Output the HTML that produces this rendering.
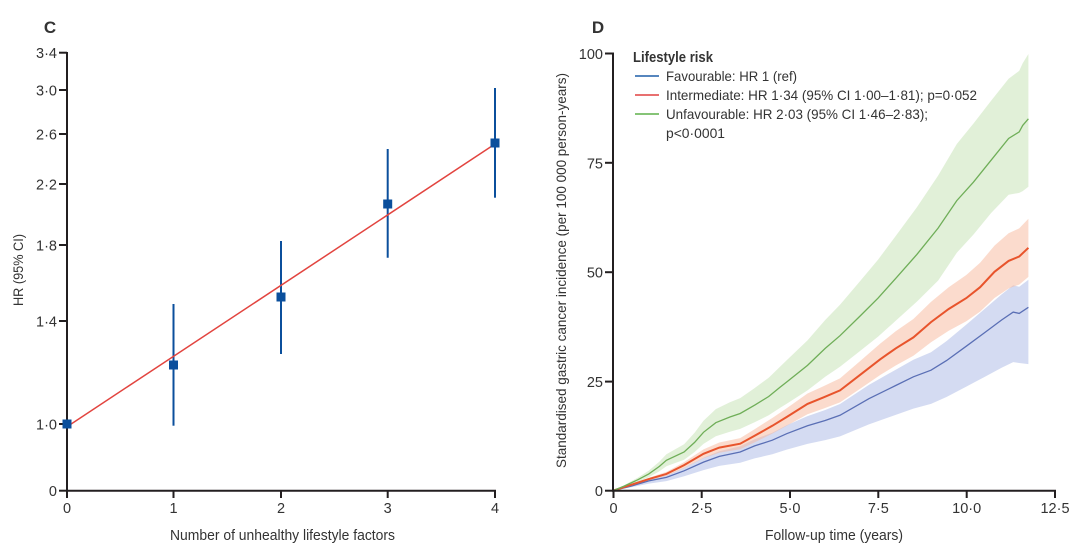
<!DOCTYPE html>
<html>
<head>
<meta charset="utf-8">
<style>
html,body{margin:0;padding:0;background:#fff;}
svg{display:block;}
text{font-family:"Liberation Sans",Arial,sans-serif;fill:#333;}
</style>
</head>
<body>
<svg width="1080" height="551" viewBox="0 0 1080 551" xmlns="http://www.w3.org/2000/svg">
  <!-- ================= Panel C ================= -->
  <text x="50" y="33" font-size="17" font-weight="bold" text-anchor="middle" fill="#222">C</text>

  <!-- axes -->
  <line x1="67" y1="52" x2="67" y2="491.5" stroke="#231f20" stroke-width="2"/>
  <line x1="66" y1="490.7" x2="496" y2="490.7" stroke="#231f20" stroke-width="2"/>

  <!-- y ticks -->
  <g stroke="#231f20" stroke-width="2">
    <line x1="59" y1="52.7" x2="67" y2="52.7"/>
    <line x1="59" y1="90" x2="67" y2="90"/>
    <line x1="59" y1="134" x2="67" y2="134"/>
    <line x1="59" y1="184" x2="67" y2="184"/>
    <line x1="59" y1="245" x2="67" y2="245"/>
    <line x1="59" y1="321" x2="67" y2="321"/>
    <line x1="59" y1="424" x2="67" y2="424"/>
    <line x1="59" y1="490.7" x2="67" y2="490.7"/>
  </g>
  <g font-size="14.5" text-anchor="end">
    <text x="57" y="58">3·4</text>
    <text x="57" y="95.5">3·0</text>
    <text x="57" y="139.5">2·6</text>
    <text x="57" y="189.5">2·2</text>
    <text x="57" y="250.5">1·8</text>
    <text x="57" y="326.5">1·4</text>
    <text x="57" y="429.5">1·0</text>
    <text x="57" y="496">0</text>
  </g>

  <!-- x ticks -->
  <g stroke="#231f20" stroke-width="2">
    <line x1="67" y1="490.7" x2="67" y2="498"/>
    <line x1="173.5" y1="490.7" x2="173.5" y2="498"/>
    <line x1="281" y1="490.7" x2="281" y2="498"/>
    <line x1="387.7" y1="490.7" x2="387.7" y2="498"/>
    <line x1="495" y1="490.7" x2="495" y2="498"/>
  </g>
  <g font-size="14.5" text-anchor="middle">
    <text x="67" y="513">0</text>
    <text x="173.5" y="513">1</text>
    <text x="281" y="513">2</text>
    <text x="387.7" y="513">3</text>
    <text x="495" y="513">4</text>
  </g>
  <text x="282.5" y="540" font-size="15" text-anchor="middle" textLength="225" lengthAdjust="spacingAndGlyphs">Number of unhealthy lifestyle factors</text>
  <text transform="translate(23,270) rotate(-90)" font-size="14" text-anchor="middle" textLength="72" lengthAdjust="spacingAndGlyphs">HR (95% CI)</text>

  <!-- CI bars -->
  <g stroke="#0b4f9c" stroke-width="2">
    <line x1="173.5" y1="304" x2="173.5" y2="425.7"/>
    <line x1="281" y1="241" x2="281" y2="354"/>
    <line x1="387.7" y1="149" x2="387.7" y2="257.7"/>
    <line x1="495" y1="88" x2="495" y2="197.7"/>
  </g>
  <!-- trend line -->
  <line x1="67" y1="426.7" x2="495" y2="144" stroke="#e2443f" stroke-width="1.5"/>
  <!-- squares -->
  <g fill="#0b4f9c">
    <rect x="62.5" y="419.5" width="9" height="9"/>
    <rect x="169" y="360.5" width="9" height="9"/>
    <rect x="276.5" y="292.5" width="9" height="9"/>
    <rect x="383.2" y="199.5" width="9" height="9"/>
    <rect x="490.5" y="138.5" width="9" height="9"/>
  </g>

  <!-- ================= Panel D ================= -->
  <text x="598" y="33" font-size="17" font-weight="bold" text-anchor="middle" fill="#222">D</text>

  <!-- bands -->
  <polygon fill="#c8e3b8" fill-opacity="0.55" points="
613.5,490.5 624.1,485.2 638.2,477.4 648.8,470.6 659.4,461.6 666.4,454.3 684.1,444.3 694.6,432.8 703.5,420.7 715.8,409.1 729.9,402.3 740.2,398.1 754.6,388.1 768.7,377.7 780.0,366.7 786.7,360.3 807.5,340.4 825.2,320.0 840.0,304.7 860.5,280.6 878.1,259.6 895.7,236.0 916.9,207.2 938.1,175.6 956.8,144 973.4,123.6 991.0,100.9 1008.6,78.7 1019.2,70.9 1022.7,63.3 1028.4,54
1028.4,186.7 1022.7,191.1 1019.2,192.9 1008.6,194.8 991.0,213.1 973.4,234.6 956.8,252.8 938.1,280.6 916.9,301.6 895.7,320.8 878.1,336.6 860.5,350.6 840.0,366.7 825.2,376.8 807.5,390.4 786.7,403.7 780.0,407.9 768.7,415.3 754.6,422.3 740.2,428.9 729.9,431.7 715.8,436.3 703.5,443.9 694.6,452.0 684.1,459.7 666.4,466.3 659.4,471.2 648.8,477.2 638.2,481.8 624.1,487.0"/>

  <polygon fill="#c5cfee" fill-opacity="0.75" points="
613.5,490.5 631.1,485.4 648.8,479.5 666.4,475.4 684.1,467.8 703.5,457.8 719.3,451.3 740.2,446.2 754.6,439.2 772.3,432.7 786.7,425.2 807.5,416.1 825.2,410.0 840.0,404.0 868.9,384.9 895.7,369.7 913.4,359.7 931.0,352.2 946.5,341.1 966.3,324.6 984.0,309.5 1001.6,294.4 1013.2,285.3 1019.2,286.8 1028.4,279.8
1028.4,364.1 1019.2,363.0 1013.2,362.1 1001.6,367.7 984.0,377.2 966.3,386.6 946.5,397.0 931.0,403.9 913.4,408.6 895.7,414.9 868.9,424.4 840.0,436.4 825.2,440.1 807.5,443.9 786.7,449.6 772.3,454.3 754.6,458.4 740.2,462.8 719.3,465.9 703.5,470.1 684.1,476.3 666.4,481.1 648.8,483.6 631.1,487.3"/>

  <polygon fill="#f7b79c" fill-opacity="0.5" points="
613.5,490.5 631.1,484.1 648.8,477.7 666.4,471.9 684.1,462.1 703.5,449.4 719.3,442.5 740.2,438.1 754.6,429.2 772.3,418.0 786.7,408.2 807.5,393.5 823.4,386.2 840.0,378.4 860.5,360.7 880.2,343.6 895.7,331.3 913.4,319.0 931.0,301.9 948.7,287.2 966.3,275.0 980.1,262.8 994.5,245.6 1008.6,233.3 1019.2,228.4 1028.4,218.7
1028.4,276.9 1019.2,284.6 1008.6,288.5 994.5,298.0 980.1,311.6 966.3,321.2 948.7,330.8 931.0,342.3 913.4,355.8 895.7,365.5 880.2,375.0 860.5,388.5 840.0,402.4 823.4,408.6 807.5,414.3 786.7,425.8 772.3,433.6 754.6,442.4 740.2,449.3 719.3,452.7 703.5,458.2 684.1,468.1 666.4,475.9 648.8,480.5 631.1,485.5"/>

  <!-- lines -->
  <polyline fill="none" stroke="#5a6fb5" stroke-width="1.3" points="613.5,490.5 631.1,486.1 648.8,480.9 666.4,477.4 684.1,470.8 703.5,462.1 719.3,456.4 740.2,452.0 754.6,445.9 772.3,440.2 786.7,433.7 807.5,425.8 825.2,420.5 840.0,415.3 868.9,398.7 895.7,385.5 913.4,376.8 931.0,370.2 946.5,360.6 966.3,346.2 984.0,333.1 1001.6,320.0 1013.2,312.1 1019.2,313.4 1028.4,307.3"/>
  <polyline fill="none" stroke="#e8542c" stroke-width="2" points="613.5,490.5 631.1,484.8 648.8,479.1 666.4,473.9 684.1,465.1 703.5,453.8 719.3,447.6 740.2,443.7 754.6,435.8 772.3,425.8 786.7,417.0 807.5,403.9 823.4,397.4 840.0,390.4 860.5,374.6 880.2,359.3 895.7,348.4 913.4,337.4 931.0,322.1 948.7,309.0 966.3,298.1 980.1,287.2 994.5,271.8 1008.6,260.9 1019.2,256.5 1028.4,247.8"/>
  <polyline fill="none" stroke="#6fae58" stroke-width="1.3" points="613.5,490.5 624.1,486.1 638.2,479.6 648.8,473.9 659.4,466.4 666.4,460.3 684.1,452.0 694.6,442.4 703.5,432.3 715.8,422.7 729.9,417.0 740.2,413.5 754.6,405.2 768.7,396.5 780.0,387.3 786.7,382.0 807.5,365.4 825.2,348.4 840.0,335.7 860.5,315.6 878.1,298.1 895.7,278.4 916.9,254.4 938.1,228.1 956.8,200.6 973.4,182.2 991.0,160.3 1008.6,138.5 1019.2,131.9 1022.7,125.4 1028.4,118.8"/>

  <!-- axes -->
  <line x1="613" y1="52.5" x2="613" y2="491.5" stroke="#231f20" stroke-width="2"/>
  <line x1="612" y1="490.7" x2="1056" y2="490.7" stroke="#231f20" stroke-width="2"/>
  <g stroke="#231f20" stroke-width="2">
    <line x1="605" y1="53.5" x2="613" y2="53.5"/>
    <line x1="605" y1="162.8" x2="613" y2="162.8"/>
    <line x1="605" y1="272.2" x2="613" y2="272.2"/>
    <line x1="605" y1="381.6" x2="613" y2="381.6"/>
    <line x1="605" y1="490.7" x2="613" y2="490.7"/>
  </g>
  <g font-size="14.5" text-anchor="end">
    <text x="603" y="59">100</text>
    <text x="603" y="168.3">75</text>
    <text x="603" y="277.7">50</text>
    <text x="603" y="387.1">25</text>
    <text x="603" y="496">0</text>
  </g>
  <g stroke="#231f20" stroke-width="2">
    <line x1="613.5" y1="490.7" x2="613.5" y2="498"/>
    <line x1="701.7" y1="490.7" x2="701.7" y2="498"/>
    <line x1="790" y1="490.7" x2="790" y2="498"/>
    <line x1="878.3" y1="490.7" x2="878.3" y2="498"/>
    <line x1="966.7" y1="490.7" x2="966.7" y2="498"/>
    <line x1="1055" y1="490.7" x2="1055" y2="498"/>
  </g>
  <g font-size="14.5" text-anchor="middle">
    <text x="613.5" y="513">0</text>
    <text x="701.7" y="513">2·5</text>
    <text x="790" y="513">5·0</text>
    <text x="878.3" y="513">7·5</text>
    <text x="966.7" y="513">10·0</text>
    <text x="1055" y="513">12·5</text>
  </g>
  <text x="834" y="540" font-size="15" text-anchor="middle" textLength="138" lengthAdjust="spacingAndGlyphs">Follow-up time (years)</text>
  <text transform="translate(566,270.5) rotate(-90)" font-size="14" text-anchor="middle" textLength="395" lengthAdjust="spacingAndGlyphs">Standardised gastric cancer incidence (per 100 000 person-years)</text>

  <!-- legend -->
  <text x="633" y="62" font-size="14.5" font-weight="bold" fill="#333" textLength="80" lengthAdjust="spacingAndGlyphs">Lifestyle risk</text>
  <line x1="635" y1="76" x2="659" y2="76" stroke="#1f5fa8" stroke-width="1.5"/>
  <line x1="635" y1="95" x2="659" y2="95" stroke="#e04040" stroke-width="1.5"/>
  <line x1="635" y1="114" x2="659" y2="114" stroke="#5fb04a" stroke-width="1.5"/>
  <g font-size="14">
    <text x="666" y="81" textLength="131" lengthAdjust="spacingAndGlyphs">Favourable: HR 1 (ref)</text>
    <text x="666" y="100" textLength="311" lengthAdjust="spacingAndGlyphs">Intermediate: HR 1·34 (95% CI 1·00–1·81); p=0·052</text>
    <text x="666" y="119" textLength="262" lengthAdjust="spacingAndGlyphs">Unfavourable: HR 2·03 (95% CI 1·46–2·83);</text>
    <text x="666" y="138" textLength="59" lengthAdjust="spacingAndGlyphs">p&lt;0·0001</text>
  </g>
</svg>
</body>
</html>
